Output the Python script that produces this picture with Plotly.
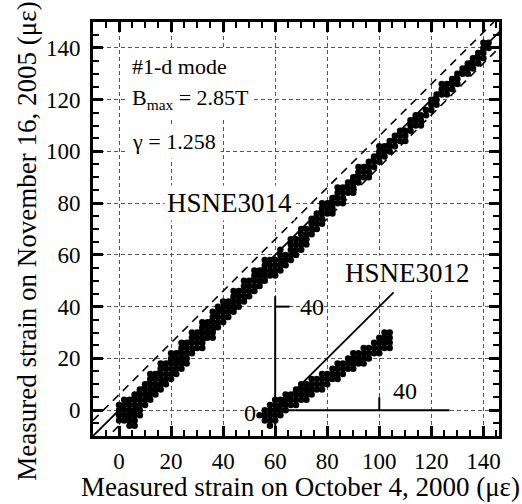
import plotly.graph_objects as go

# ---------------- data ----------------
# HSNE3014 (main): x of each column of points and the y values read in that column
main_cols_x = [0, 2, 4, 6, 8, 10, 12, 14, 16, 18, 20, 22, 24, 26, 28, 30, 32, 34, 36, 38, 40,
               42, 44, 46, 48, 50, 52, 54, 56, 58, 60, 62, 64, 66, 68, 70, 72, 74, 76, 78, 80,
               82, 84, 86, 88, 90, 92, 94, 96, 98, 100, 102, 104, 106, 108, 110, 112, 114, 116,
               118, 120, 122, 124, 126, 128, 130, 132, 134, 136, 138, 140, 142]
main_cols_y = [
    [-4, -2, 0, 2], [-4, -2, 0, 2, 4], [-6, -4, -2, 0, 2, 4], [-6, -4, -2, 0, 2, 4, 6],
    [-2, 0, 2, 4, 6, 8], [2, 4, 6, 8, 10], [4, 6, 8, 10, 12, 14], [6, 8, 10, 12, 14],
    [8, 10, 12, 14, 16, 18], [10, 12, 14, 16, 18], [12, 14, 16, 18, 20, 22],
    [14, 16, 18, 20, 22], [16, 18, 20, 22, 24, 26], [18, 20, 22, 24, 26], [22, 24, 26, 28, 30],
    [24, 26, 28, 30], [24, 26, 28, 30, 32, 34], [28, 30, 32, 34], [28, 30, 32, 34, 36, 38],
    [32, 34, 36, 38, 40], [34, 36, 38, 40, 42], [36, 38, 40, 42], [38, 40, 42, 44, 46],
    [40, 42, 44, 46], [42, 44, 46, 48, 50], [44, 46, 48, 50], [46, 48, 50, 52, 54],
    [48, 50, 52, 54], [50, 52, 54, 56, 58], [52, 54, 56, 58], [52, 54, 56, 58],
    [54, 56, 58, 60, 62], [56, 58, 60], [58, 60, 62, 64, 66], [60, 62, 64, 66],
    [62, 64, 66, 68, 70], [64, 66, 68, 70], [68, 70, 72, 74], [70, 72, 74, 76],
    [72, 74, 76, 78, 80], [76, 78, 80], [76, 78, 80, 82], [80, 82, 84, 86], [80, 82, 84, 86],
    [84, 86, 88], [84, 86, 88, 90], [88, 90, 92, 94], [90, 92, 94], [90, 92, 94, 96],
    [94, 96, 98], [96, 98, 100, 102], [98, 100, 102], [100, 102, 104], [102, 104, 106],
    [104, 106, 108], [104, 106, 108], [108, 110, 112], [110, 112, 114], [110, 112, 114],
    [114, 116], [116, 118, 120], [118, 120, 122], [122, 124, 126], [122, 124, 126],
    [124, 126, 128], [126, 128, 130], [130, 132], [130, 132, 134], [132, 134, 136],
    [134, 136, 138], [136, 138, 140, 142], [140, 142],
]

# HSNE3012 (inset, in the inset's own coordinates)
inset_cols_u = [-6, -4, -2, 0, 2, 4, 6, 8, 10, 12, 14, 16, 18, 20, 22, 24, 26, 28, 30, 32, 34,
                36, 38, 40, 42, 44]
inset_cols_y = [
    [-2], [-4, -2, 0], [-6, -4, -2, 0, 2], [-4, -2, 0, 2, 4], [-2, 0, 2, 4], [0, 2, 4, 6],
    [2, 4, 6], [2, 4, 6, 8], [4, 6, 8, 10], [4, 6, 8, 10], [6, 8, 10, 12], [8, 10, 12],
    [8, 10, 12, 14], [10, 12, 14], [12, 14, 16], [12, 14, 16, 18], [14, 16, 18], [16, 18, 20],
    [16, 18, 20, 22], [18, 20, 22], [18, 20, 22, 24], [20, 22, 24], [22, 24, 26],
    [22, 24, 26, 28], [24, 26, 28, 30], [24, 26, 28, 30],
]

major_ticks = [0, 20, 40, 60, 80, 100, 120, 140]
tick_labels = ["0", "20", "40", "60", "80", "100", "120", "140"]
inset_tick = 40
band = 6  # offset of the dashed guide lines

# ---------------- layout constants ----------------
XR = [-10, 146]
YR = [-10, 150]
INSET_X0 = 60          # inset origin shifted along x
INSET_XEND = 67        # inset horizontal axis length (inset units)
INSET_YTOP = 44
FONT = "Liberation Serif"


def flatten(cols_x, cols_y, shift=0.0):
    xs, ys = [], []
    for x, col in zip(cols_x, cols_y):
        for y in col:
            xs.append(x + shift)
            ys.append(y)
    return xs, ys


mx, my = flatten(main_cols_x, main_cols_y)
ix, iy = flatten(inset_cols_u, inset_cols_y, INSET_X0)

fig = go.Figure()


def seg(xs, ys, width=2, dash=None):
    ln = dict(color="black", width=width)
    if dash:
        ln["dash"] = dash
    fig.add_trace(go.Scatter(x=xs, y=ys, mode="lines", line=ln, hoverinfo="skip"))


# y = x and +/- band guide lines
seg([XR[0], YR[1]], [XR[0], YR[1]], 1.8)
seg([XR[0], YR[1]], [XR[0] + band, YR[1] + band], 1.6, "8px,6px")
seg([XR[0], YR[1]], [XR[0] - band, YR[1] - band], 1.6, "8px,6px")

# inset axes
seg([INSET_X0, INSET_X0], [YR[0], INSET_YTOP], 2)
seg([INSET_X0, INSET_X0 + INSET_XEND], [0, 0], 2)
seg([INSET_X0 + inset_tick, INSET_X0 + inset_tick], [0, 5], 2)
seg([INSET_X0, INSET_X0 + 5.5], [inset_tick, inset_tick], 2)
seg([INSET_X0, INSET_X0 + 45.5], [0, 45.5], 1.8)

# data
fig.add_trace(go.Scatter(x=mx, y=my, mode="markers", name="HSNE3014",
                         marker=dict(color="black", size=6.5, line=dict(width=0))))
fig.add_trace(go.Scatter(x=ix, y=iy, mode="markers", name="HSNE3012",
                         marker=dict(color="black", size=6.5, line=dict(width=0))))


def ann(text, x, y, size, xanchor="center", pad=2, bg="white"):
    fig.add_annotation(x=x, y=y, xref="x", yref="y", text=text, showarrow=False,
                       xanchor=xanchor, yanchor="middle",
                       font=dict(family=FONT, size=size, color="black"),
                       bgcolor=bg, borderpad=pad)


ann("#1-d mode", 3.0, 132.7, 22, "left", 4)
ann("B<sub>max</sub> = 2.85T", 3.0, 120.3, 22, "left", 4)
ann("γ = 1.258", 3.0, 103.8, 22, "left", 4)
ann("HSNE3014", 42.3, 80, 27)
ann("HSNE3012", 111, 53, 27)
ann(str(inset_tick), INSET_X0 + 14, inset_tick, 24, bg=None)
ann(str(inset_tick), INSET_X0 + inset_tick + 10, 7.4, 24, bg=None)
ann("0", INSET_X0 - 9.6, -1.2, 24, bg=None)

# axis titles
fig.add_annotation(x=0.512, y=-0.163, xref="paper", yref="paper", showarrow=False,
                   text="Measured strain on October 4, 2000 (με)",
                   xanchor="center", yanchor="bottom", borderpad=0,
                   font=dict(family=FONT, size=27, color="black"))
fig.add_annotation(x=-0.163, y=0.471, xref="paper", yref="paper", showarrow=False,
                   text="Measured strain on November 16, 2005 (με)", textangle=-90,
                   xanchor="center", yanchor="middle",
                   font=dict(family=FONT, size=27, color="black"))

axis_common = dict(
    showline=True, linecolor="black", linewidth=3, mirror="ticks",
    ticks="inside", ticklen=10, tickwidth=3, tickcolor="black",
    tickvals=major_ticks, ticktext=tick_labels,
    showgrid=True, gridcolor="#555555", gridwidth=1, griddash="4px,3px",
    zeroline=False,
    tickfont=dict(family=FONT, size=23, color="black"),
    minor=dict(dtick=5, tick0=0, ticks="inside", ticklen=6, tickwidth=2,
               tickcolor="black", showgrid=False),
)

fig.update_xaxes(range=XR, **axis_common, ticklabelstandoff=2)
fig.update_yaxes(range=YR, **axis_common, ticklabelstandoff=5)

fig.update_layout(width=522, height=504, showlegend=False,
                  margin=dict(l=93, r=23, t=22, b=68),
                  plot_bgcolor="white", paper_bgcolor="white",
                  font=dict(family=FONT, color="black"))

fig.write_html("out.html", config={"displayModeBar": False},
               post_script="document.body.style.margin='0';")
